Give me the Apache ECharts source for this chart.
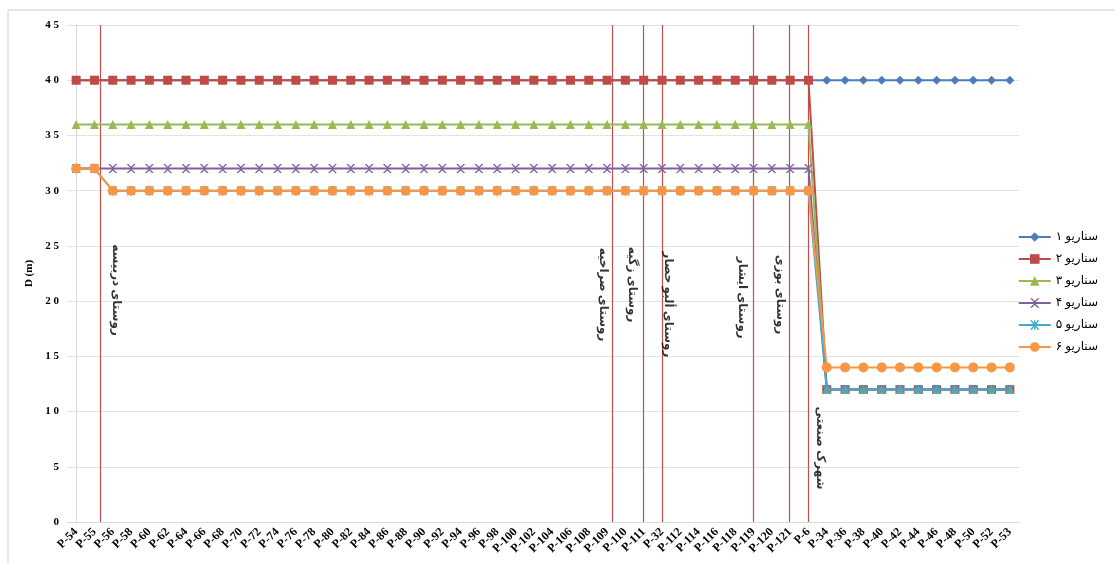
<!DOCTYPE html>
<html>
<head>
<meta charset="utf-8">
<script src="https://cdn.jsdelivr.net/npm/echarts@6/dist/echarts.min.js"></script>
<style>html,body{margin:0;padding:0;background:#fff}#c{width:1115px;height:563px}</style>
</head>
<body>
<div id="c"></div>
<script>
const categories = ['P-54','P-55','P-56','P-58','P-60','P-62','P-64','P-66','P-68','P-70','P-72','P-74','P-76','P-78','P-80','P-82','P-84','P-86','P-88','P-90','P-92','P-94','P-96','P-98','P-100','P-102','P-104','P-106','P-108','P-109','P-110','P-111','P-32','P-112','P-114','P-116','P-118','P-119','P-120','P-121','P-6','P-34','P-36','P-38','P-40','P-42','P-44','P-46','P-48','P-50','P-52','P-53'];
const seriesNames = ['سناریو ۱','سناریو ۲','سناریو ۳','سناریو ۴','سناریو ۵','سناریو ۶'];
function rep(v, n){ return Array(n).fill(v); }
const s1 = rep(40, 52);
const s2 = rep(40, 41).concat(rep(12, 11));
const s3 = rep(36, 41).concat(rep(12, 11));
const s4 = rep(32, 41).concat(rep(12, 11));
const s5 = [32, 32].concat(rep(30, 39)).concat(rep(12, 11));
const s6 = [32, 32].concat(rep(30, 39)).concat(rep(14, 11));
const yTicks = [0, 5, 10, 15, 20, 25, 30, 35, 40, 45];
// vertical marker positions (in category-index units) and their labels
const markerX = [1.3, 29.28, 30.97, 32.0, 36.99, 38.95, 40.0];
const placeNames = ['روستای دربیسه','روستای صراخیه','روستای زگیه','روستای ألبو حصار','روستای ایشار','روستای بوزی','شهرک صنعتی'];
const placeAnchorX = [2.18, 28.79, 30.37, 32.34, 36.39, 38.46, 40.65];
const placeAnchorY = [21.0, 20.6, 21.5, 19.7, 20.3, 20.6, 6.7];

const colors = ['#4a7ebb','#be4b48','#98b954','#7d60a0','#46aac5','#f79646'];
const symbols = ['diamond','rect','triangle',
  'path://M0,0 L2,0 L5,3 L8,0 L10,0 L6,4 L6,6 L10,10 L8,10 L5,7 L2,10 L0,10 L4,6 L4,4 Z',
  'path://M0,0 L2,0 L4.3,3 L4.3,0 L5.7,0 L5.7,3 L8,0 L10,0 L6,5 L10,10 L8,10 L5.7,7 L5.7,10 L4.3,10 L4.3,7 L2,10 L0,10 L4,5 Z',
  'circle'];
const symSizes = [9, 9, 9, 9, 9, 10];
const datas = [s1, s2, s3, s4, s5, s6];

const chart = echarts.init(document.getElementById('c'));
const font = '"Liberation Serif", "DejaVu Serif", serif';
const series = datas.map((d, i) => ({
  name: seriesNames[i], type: 'line', data: d, xAxisIndex: 0, yAxisIndex: 0,
  symbol: symbols[i], symbolSize: symSizes[i], showAllSymbol: true,
  lineStyle: {color: colors[i], width: 2}, itemStyle: {color: colors[i]},
  emphasis: {disabled: true}, z: 3 + i, animation: false
}));
series.push({
  type: 'scatter', xAxisIndex: 1, yAxisIndex: 0, silent: true, animation: false,
  symbolSize: 0, z: 20,
  data: placeNames.map((n, i) => ({value: [placeAnchorX[i], placeAnchorY[i]], name: n})),
  label: {show: true, position: 'inside', rotate: -90, formatter: p => p.name,
    fontFamily: '"Noto Sans", "DejaVu Sans", sans-serif', fontWeight: 'bold', fontSize: 12, color: '#000'},
  markLine: {
    silent: true, symbol: ['none','none'], animation: false,
    lineStyle: {color: '#c0504d', width: 1.2, type: 'solid'},
    label: {show: false},
    data: markerX.map(x => [{coord: [x, 45]}, {coord: [x, 0]}])
  }
});

chart.setOption({
  animation: false,
  grid: {left: 67, right: 96, top: 25, bottom: 41, containLabel: false},
  legend: {
    orient: 'vertical', right: 12, top: 226, itemGap: 10,
    itemWidth: 32, itemHeight: 12,
    data: seriesNames,
    textStyle: {fontFamily: '"Noto Sans", "DejaVu Sans", sans-serif', fontSize: 12, color: '#000'}
  },
  xAxis: [{
    type: 'category', data: categories, boundaryGap: true,
    axisLine: {lineStyle: {color: '#d9d9d9'}},
    axisTick: {show: false},
    axisLabel: {interval: 0, rotate: 45, fontFamily: font, fontWeight: 'bold', fontSize: 12, color: '#000', margin: 8},
    splitLine: {show: false}
  }, {
    type: 'value', min: -0.5, max: 51.5, show: false
  }],
  yAxis: {
    type: 'value', min: 0, max: 45, interval: 5,
    name: 'D (m)', nameLocation: 'middle', nameGap: 28, nameRotate: 90,
    nameTextStyle: {fontFamily: font, fontWeight: 'bold', fontSize: 11, color: '#000'},
    axisLine: {show: true, lineStyle: {color: '#d9d9d9'}},
    axisTick: {show: false},
    axisLabel: {fontFamily: font, fontWeight: 'bold', fontSize: 11, color: '#000', margin: 8,
      formatter: v => yTicks.includes(v) ? String(v).split('').join(' ') : ''},
    splitLine: {lineStyle: {color: '#e3e3e3'}}
  },
  graphic: [
    {type: 'line', shape: {x1: 8, y1: 10, x2: 1115, y2: 10}, style: {stroke: '#d0d0d0', lineWidth: 1}},
    {type: 'line', shape: {x1: 8, y1: 10, x2: 8, y2: 563}, style: {stroke: '#d0d0d0', lineWidth: 1}}
  ],
  series: series
});
</script>
</body>
</html>
